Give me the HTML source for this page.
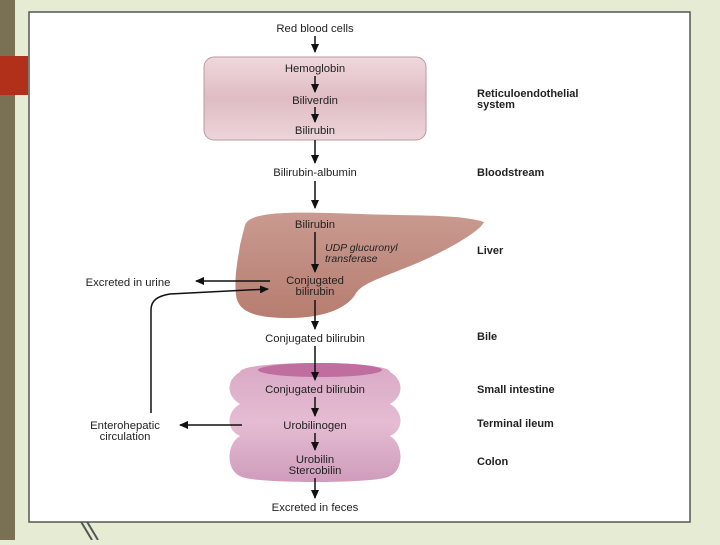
<!DOCTYPE html>
<html><head><style>
body{margin:0;width:720px;height:540px;overflow:hidden;background:#e6ebd3;font-family:"Liberation Sans",sans-serif}
</style></head><body>
<svg width="720" height="540" viewBox="0 0 720 540" xmlns="http://www.w3.org/2000/svg">
<defs>
<marker id="a" markerWidth="10" markerHeight="10" refX="8" refY="5" orient="auto" markerUnits="userSpaceOnUse"><path d="M0,1 L9,5 L0,9 Z" fill="#111"/></marker>
<linearGradient id="lv" x1="0" y1="0" x2="0" y2="1"><stop offset="0" stop-color="#c99a90"/><stop offset="1" stop-color="#b77d70"/></linearGradient>
<linearGradient id="bx" x1="0" y1="0" x2="0" y2="1"><stop offset="0" stop-color="#eed8dc"/><stop offset="0.5" stop-color="#dfbcc3"/><stop offset="1" stop-color="#ecd5da"/></linearGradient>
<linearGradient id="in" x1="0" y1="0" x2="0" y2="1"><stop offset="0" stop-color="#d9a8c4"/><stop offset="0.5" stop-color="#e5bcd3"/><stop offset="1" stop-color="#cf9cbb"/></linearGradient>
</defs>
<rect x="0" y="0" width="15" height="540" fill="#7a7154"/>
<rect x="0" y="56" width="28" height="39" fill="#b0301a"/>
<path d="M80 520 L92 540 M86 520 L98 540" stroke="#555" stroke-width="2"/>
<rect x="29" y="12" width="661" height="510" fill="#fff" stroke="#555" stroke-width="1.5"/>
<g font-size="11.3" fill="#222" text-anchor="middle">
<text x="315" y="32">Red blood cells</text>
<rect x="204" y="57" width="222" height="83" rx="10" fill="url(#bx)" stroke="#b99aa0"/>
<text x="315" y="72">Hemoglobin</text>
<text x="315" y="104">Biliverdin</text>
<text x="315" y="134">Bilirubin</text>
<text x="315" y="176">Bilirubin-albumin</text>
<path d="M245 225 C250 210 300 212 360 214 C410 216 460 214 484 222 C480 232 440 255 400 270 C375 280 360 285 355 295 C345 310 320 318 290 318 C255 318 238 312 236 295 C234 275 238 260 240 245 Z" fill="url(#lv)"/>
<text x="315" y="228">Bilirubin</text>
<text x="315" y="284">Conjugated</text>
<text x="315" y="295">bilirubin</text>
<text x="315" y="342">Conjugated bilirubin</text>
<path d="M240 372 C240 360 390 360 390 372 C404 380 404 396 390 404 C404 412 404 430 390 436 C404 444 404 470 390 476 C380 484 250 484 240 476 C226 470 226 444 240 436 C226 430 226 412 240 404 C226 396 226 380 240 372 Z" fill="url(#in)"/>
<ellipse cx="320" cy="370" rx="62" ry="7" fill="#c06ea0"/>
<text x="315" y="393">Conjugated bilirubin</text>
<text x="315" y="429">Urobilinogen</text>
<text x="315" y="463">Urobilin</text>
<text x="315" y="474">Stercobilin</text>
<text x="315" y="511">Excreted in feces</text>
<text x="125" y="429">Enterohepatic</text>
<text x="125" y="440">circulation</text>
<text x="128" y="286">Excreted in urine</text>
</g>
<g font-size="10.5" font-style="italic" fill="#222"><text x="325" y="251">UDP glucuronyl</text><text x="325" y="262">transferase</text></g>
<g font-size="11" font-weight="bold" fill="#222">
<text x="477" y="97">Reticuloendothelial</text><text x="477" y="108">system</text>
<text x="477" y="176">Bloodstream</text>
<text x="477" y="254">Liver</text>
<text x="477" y="340">Bile</text>
<text x="477" y="393">Small intestine</text>
<text x="477" y="427">Terminal ileum</text>
<text x="477" y="465">Colon</text>
</g>
<g stroke="#111" stroke-width="1.5" fill="none" marker-end="url(#a)">
<path d="M315 36 V52"/><path d="M315 76 V92"/><path d="M315 107 V122"/>
<path d="M315 140 V163"/><path d="M315 181 V208"/><path d="M315 232 V272"/>
<path d="M315 300 V329"/><path d="M315 346 V380"/><path d="M315 397 V416"/>
<path d="M315 433 V450"/><path d="M315 478 V498"/>
<path d="M270 281 H196"/><path d="M242 425 H180"/>
<path d="M151 413 V310 C151 300 158 296 170 294 L268 289"/>
</g>
</svg>
</body></html>
